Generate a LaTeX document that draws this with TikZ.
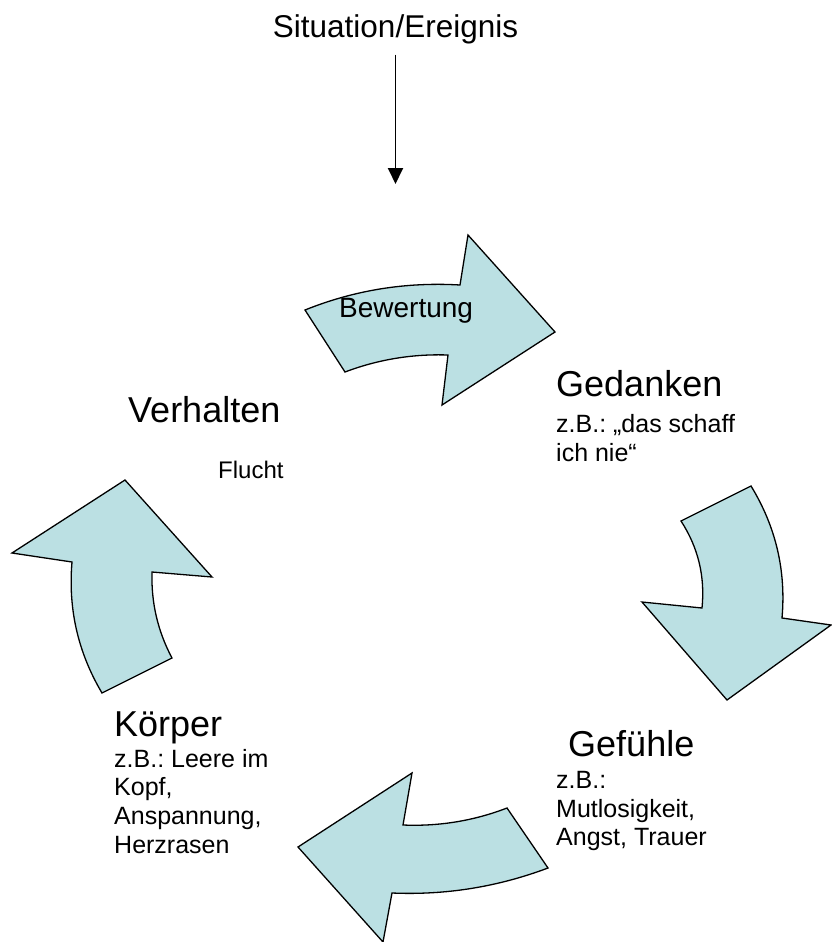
\documentclass[tikz,border=0pt]{standalone}
\usepackage{fontspec}
\setmainfont{Liberation Sans}
\usetikzlibrary{arrows.meta,positioning}
\definecolor{cyclefill}{RGB}{187,224,227}
\frenchspacing

\begin{document}
\begin{tikzpicture}[x=1pt,y=-1pt,
  cycle arrow/.style={draw=black,fill=cyclefill,line width=1.3pt,line join=miter},
  head node/.style={anchor=base west,inner sep=0pt,font=\fontsize{36}{42}\selectfont},
  note node/.style={anchor=north west,inner sep=0pt,align=left,
    font=\fontsize{25}{28.7}\selectfont}]

  \useasboundingbox (0,0) rectangle (831,942);

  % trigger on top
  \node[inner sep=0pt,anchor=base,font=\fontsize{31.5}{36}\selectfont]
    (situation) at (395.5,38) {Situation/Ereignis};
  \coordinate (event) at (395.5,184);
  \draw[-{Triangle[length=16pt,width=15pt]},line width=1.9pt,shorten <=10pt]
    (situation.south) -- (event);

  % the four block arrows of the cycle
  \draw[cycle arrow] (305,310) .. controls (354.2,290.2) and (405.8,281.8) .. (460,285)
    -- (468,235) -- (555,332) -- (442,405) -- (448,355)
    .. controls (412.7,353.8) and (378.3,359.4) .. (345,372) -- cycle;
  \draw[cycle arrow] (681,521) -- (751,486) .. controls (775.8,526.6) and (786.2,570.6) .. (782,618)
    -- (831,625) -- (727,700) -- (642,602) -- (702,608)
    .. controls (705.2,576.5) and (698.2,547.5) .. (681,521) -- cycle;
  \draw[cycle arrow] (548,868) -- (507,808) .. controls (473.5,820.9) and (438.9,826.5) .. (403,825)
    -- (412,773) -- (298,847) -- (383,942) -- (392,893)
    .. controls (445.7,895.3) and (497.7,886.9) .. (548,868) -- cycle;
  \draw[cycle arrow] (102,693) -- (172,658) .. controls (157.7,631.1) and (151.1,602.5) .. (152,572)
    -- (212,577) -- (125,480) -- (12,553) -- (72,562)
    .. controls (68,608.9) and (78,652.5) .. (102,693) -- cycle;

  \node[inner sep=0pt,anchor=base west,font=\fontsize{28}{32}\selectfont]
    (bewertung) at (339,317) {Bewertung};

  \node[head node] (gedanken) at (556,396) {Gedanken};
  \node[note node,below=16.2pt of gedanken.base west,anchor=north west]
    (gedankennote) {\strut z.B.: „das schaff\\ich nie“};

  \node[head node] (gefuehle) at (568,756) {Gefühle};
  \node[note node,below=12.2pt of gefuehle.base west,anchor=north west,xshift=-12pt]
    (gefuehlenote) {\strut z.B.:\\Mutlosigkeit,\\Angst, Trauer};

  \node[head node] (koerper) at (114,736) {Körper};
  \node[note node,below=10.9pt of koerper.base west,anchor=north west]
    (koerpernote) {\strut z.B.: Leere im\\Kopf,\\Anspannung,\\Herzrasen};

  \node[head node] (verhalten) at (128,422) {Verhalten};
  \node[inner sep=0pt,anchor=base west,font=\fontsize{24}{28}\selectfont]
    (flucht) at (218,478) {Flucht};

\end{tikzpicture}
\end{document}
